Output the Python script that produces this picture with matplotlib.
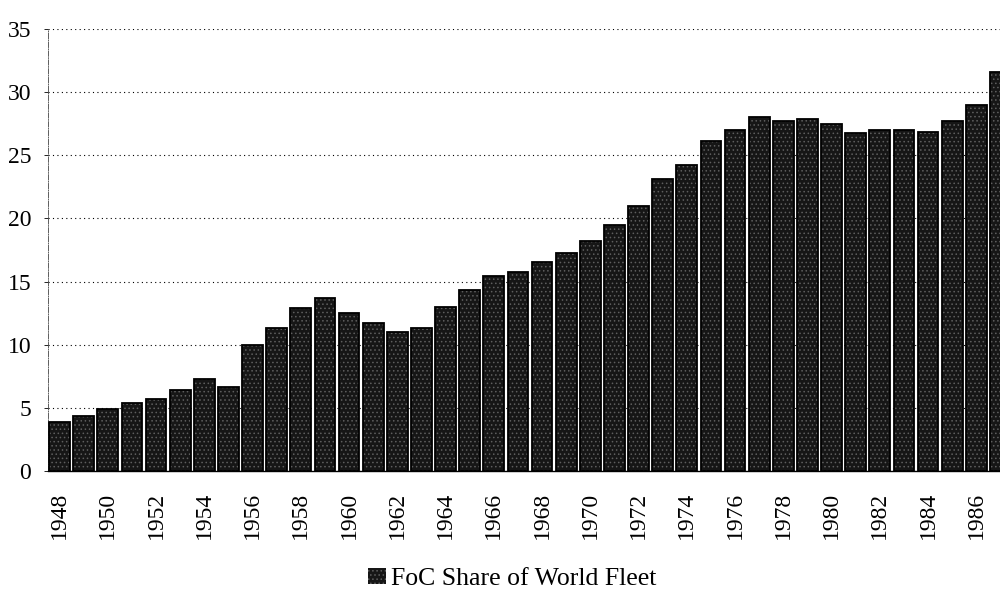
import matplotlib
matplotlib.use("Agg")
import matplotlib.pyplot as plt
import numpy as np

# FoC share of world fleet (%)
years = np.arange(1948, 1988)
share = [3.85, 4.33, 4.9, 5.4, 5.7, 6.4, 7.3, 6.65, 10.0, 11.3,
         12.9, 13.7, 12.48, 11.7, 11.03, 11.35, 12.95, 14.35, 15.43, 15.75,
         16.57, 17.23, 18.18, 19.45, 21.0, 23.09, 24.27, 26.17, 26.97, 28.07,
         27.7, 27.9, 27.44, 26.8, 26.97, 26.99, 26.83, 27.73, 29.02, 31.56]
yticks = [0, 5, 10, 15, 20, 25, 30, 35]
xtick_years = years[::2]

plt.rcParams['font.family'] = ['Liberation Serif', 'DejaVu Serif']
plt.rcParams['hatch.linewidth'] = 0.6

fig = plt.figure(figsize=(10, 5.92), dpi=100)
ax = fig.add_axes([0.048, 0.2044, 0.9645, 0.7466])

# textured fill, then black outline on top
bars = ax.bar(years, share, width=0.86, color='#161616', edgecolor='#5e5e5e',
              linewidth=0, hatch='....', zorder=2)
ax.bar(years, share, width=0.86, fill=False, edgecolor='black',
       linewidth=1.3, zorder=3)

ax.set_xlim(1947.52, 1987.5)
ax.set_ylim(0, 35)
ax.set_yticks(yticks)
ax.set_xticks(xtick_years)
ax.set_xticklabels([str(y) for y in xtick_years], rotation=90)

ax.yaxis.grid(True, linestyle=(0, (1, 3)), color='black', linewidth=0.8)
ax.set_axisbelow(True)

for side in ['top', 'right']:
    ax.spines[side].set_visible(False)
ax.spines['left'].set_linestyle('-.')
ax.spines['left'].set_linewidth(0.6)
ax.spines['left'].set_color('#444444')
ax.spines['bottom'].set_linewidth(1.0)

ax.tick_params(axis='y', length=3, width=0.6, pad=9, labelsize=17)
ax.tick_params(axis='x', length=0, pad=15, labelsize=17)

fig.legend(handles=[bars], labels=['FoC Share of World Fleet'],
           loc='center', bbox_to_anchor=(0.512, 0.022), frameon=False,
           fontsize=18.5, handlelength=0.7, handleheight=0.55, handletextpad=0.2)

fig.savefig('out.png', dpi=100)
